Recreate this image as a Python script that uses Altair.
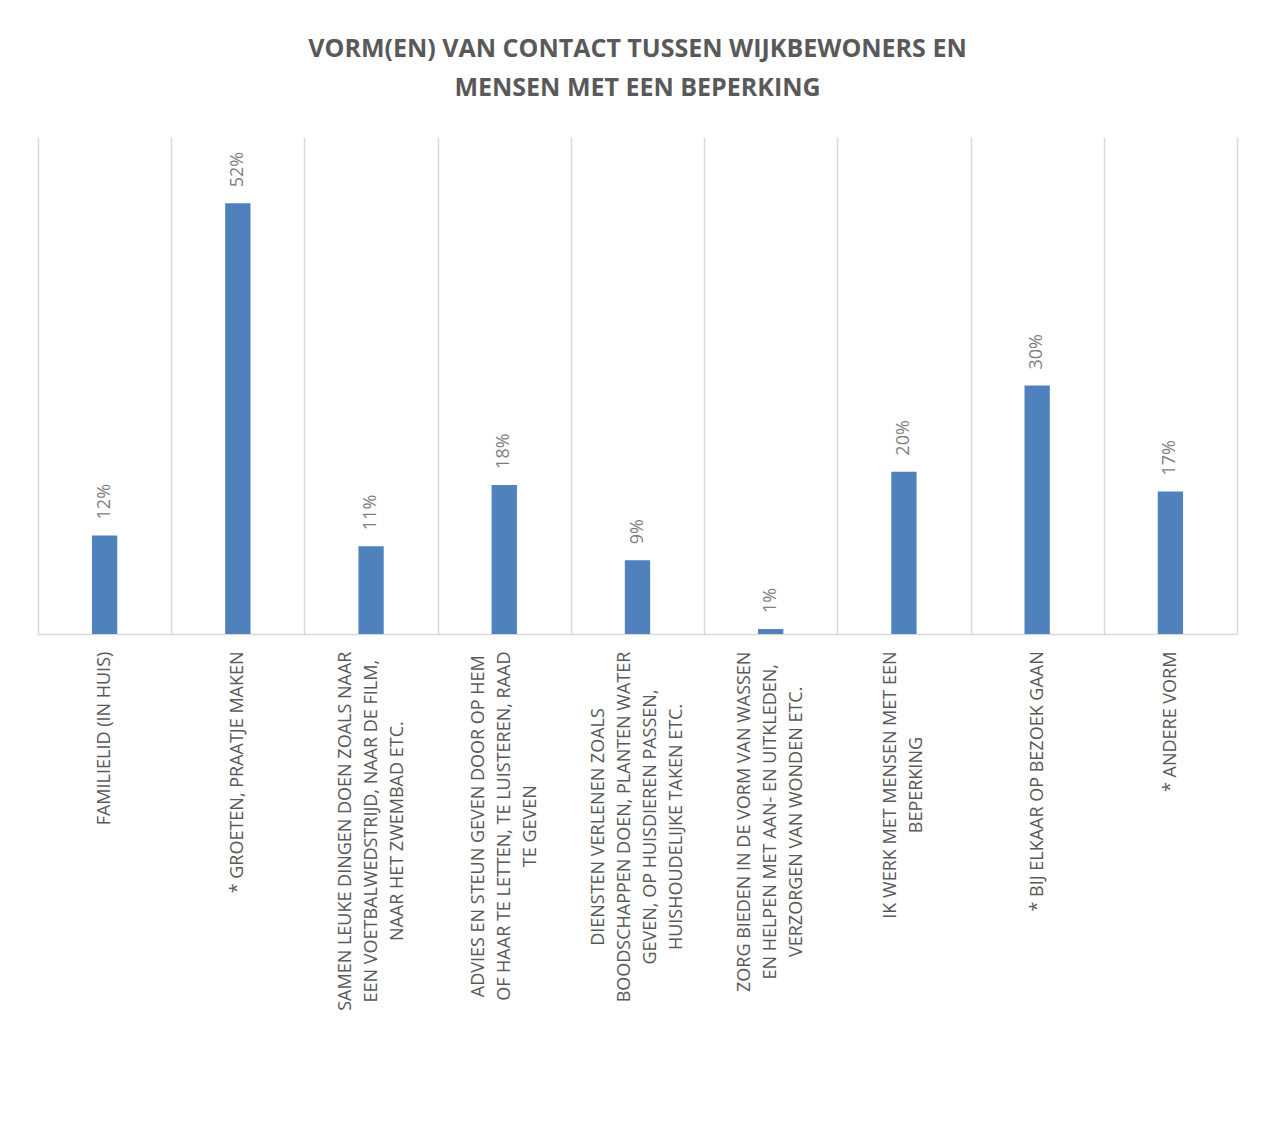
import json
import altair as alt
import pandas as pd

# category labels, one list of lines per category
label_lines = [
    ["FAMILIELID (IN HUIS)"],
    ["* GROETEN, PRAATJE MAKEN"],
    ["SAMEN LEUKE DINGEN DOEN ZOALS NAAR", "EEN VOETBALWEDSTRIJD, NAAR DE FILM,", "NAAR HET ZWEMBAD ETC."],
    ["ADVIES EN STEUN GEVEN DOOR OP HEM", "OF HAAR TE LETTEN, TE LUISTEREN, RAAD", "TE GEVEN"],
    ["DIENSTEN VERLENEN ZOALS", "BOODSCHAPPEN DOEN, PLANTEN WATER", "GEVEN, OP HUISDIEREN PASSEN,", "HUISHOUDELIJKE TAKEN ETC."],
    ["ZORG BIEDEN IN DE VORM VAN WASSEN", "EN HELPEN MET AAN- EN UITKLEDEN,", "VERZORGEN VAN WONDEN ETC."],
    ["IK WERK MET MENSEN MET EEN", "BEPERKING"],
    ["* BIJ ELKAAR OP BEZOEK GAAN"],
    ["* ANDERE VORM"],
]
values = [0.119, 0.52, 0.106, 0.18, 0.089, 0.006, 0.196, 0.30, 0.172]

title_lines = ["VORM(EN) VAN CONTACT TUSSEN WIJKBEWONERS EN", "MENSEN MET EEN BEPERKING"]

FONT = "Open Sans"
LABEL_SIZE = 18
LH = 26
PAD = 17

# approximate Open Sans advance widths (em), used to centre each label block
_W = {"A": .633, "B": .648, "C": .631, "D": .729, "E": .556, "F": .516, "G": .728,
      "H": .738, "I": .279, "J": .267, "K": .602, "L": .519, "M": .903, "N": .754,
      "O": .779, "P": .602, "R": .618, "S": .549, "T": .553, "U": .739, "V": .592,
      "W": .926, "Z": .560, " ": .26, ",": .245, ".": .266, "-": .322, "(": .296,
      ")": .296, "*": .55}


def _width(s):
    return sum(_W.get(c, .6) for c in s) * LABEL_SIZE


categories = ["|".join(l) for l in label_lines]
df = pd.DataFrame({"cat": categories, "val": values})

# lines centred on each other; block pushed down by half its longest line
pad_cond = [
    {"test": f"datum.value === {json.dumps(c)}",
     "value": round(PAD + max(_width(s) for s in l) / 2, 1)}
    for c, l in zip(categories, label_lines)
]
offset_cond = [
    {"test": f"length(split(datum.value, '|')) == {k}", "value": -(k - 1) * LH / 2}
    for k in (2, 3, 4)
]

x_enc = alt.X(
    "cat:N",
    sort=categories,
    title=None,
    scale=alt.Scale(paddingInner=0, paddingOuter=0),
    axis=alt.Axis(
        labelAngle=270,
        labelAlign="center",
        labelBaseline="middle",
        labelExpr="split(datum.label, '|')",
        labelFont=FONT,
        labelFontSize=LABEL_SIZE,
        labelColor="#595959",
        labelLineHeight=LH,
        labelPadding={"condition": pad_cond, "value": PAD},
        labelLimit=0,
        labelOffset={"condition": offset_cond, "value": 0},
        labelOverlap=False,
        ticks=False,
        grid=True,
        tickBand="extent",
        gridColor="#d9d9d9",
        gridWidth=1.5,
        domainColor="#d9d9d9",
        domainWidth=1.5,
    ),
)
y_enc = alt.Y("val:Q", scale=alt.Scale(domain=[0, 0.6], nice=False), axis=None)

bars = alt.Chart(df).mark_bar(
    color="#4f81bd", width=alt.RelativeBandSize(0.19)
).encode(x=x_enc, y=y_enc)

texts = alt.Chart(df).mark_text(
    angle=270, align="left", baseline="middle", yOffset=-16,
    font=FONT, fontSize=18, color="#7f7f7f"
).encode(x=alt.X("cat:N", sort=categories), y=y_enc, text=alt.Text("val:Q", format=".0%"))

chart = alt.layer(bars, texts).properties(
    width=1199,
    height=497,
    autosize=alt.AutoSizeParams(type="none"),
    padding={"left": 30, "top": 129, "right": 16, "bottom": 470},
    title=alt.TitleParams(
        text=title_lines,
        font=FONT,
        fontSize=25,
        fontWeight="bold",
        color="#595959",
        lineHeight=39,
        anchor="middle",
        offset=36,
    ),
).configure_view(stroke=None)

chart.save("out.html", embed_options={"renderer": "svg", "actions": False})
